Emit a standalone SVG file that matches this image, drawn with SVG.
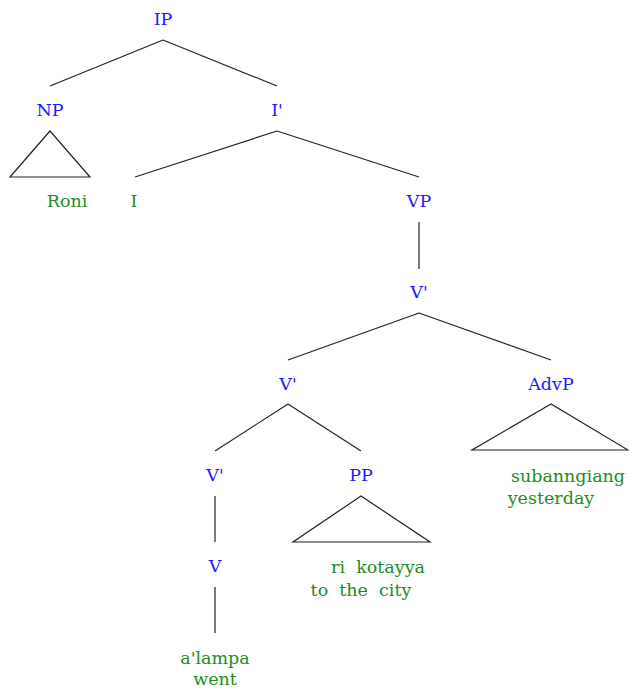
<svg xmlns="http://www.w3.org/2000/svg" width="629" height="689" viewBox="0 0 629 689">
<style>
text{font-family:"DejaVu Serif",serif;font-size:17.5px;text-anchor:middle;white-space:pre}
.c{fill:#1a1aff}
.w{fill:#228b22}
line,polygon{stroke:#222;stroke-width:1.2;fill:none}
</style>
<rect width="629" height="689" fill="#fff"/>
<g id="connectors">
<line x1="163" y1="40" x2="50" y2="86"/>
<line x1="163" y1="40" x2="277" y2="86"/>
<line x1="277" y1="131" x2="135" y2="177"/>
<line x1="277" y1="131" x2="419" y2="177"/>
<line x1="419" y1="222" x2="419" y2="269"/>
<line x1="419" y1="313" x2="288" y2="360"/>
<line x1="419" y1="313" x2="551" y2="360"/>
<line x1="288" y1="404" x2="215" y2="451"/>
<line x1="288" y1="404" x2="361" y2="451"/>
<line x1="215" y1="496" x2="215" y2="542"/>
<line x1="215" y1="587" x2="215" y2="633"/>
<polygon points="50,131 10,177 90,177"/>
<polygon points="361,496 293,542 430,542"/>
<polygon points="551,404 472,450 628,450"/>
</g>
<g id="IP"><text class="c" x="163" y="25">IP</text></g>
<g id="NP"><text class="c" x="50" y="116">NP</text><text class="w" x="67" y="207">Roni</text></g>
<g id="Ibar"><text class="c" x="277" y="116">I'</text></g>
<g id="I"><text class="w" x="134" y="207">I</text></g>
<g id="VP"><text class="c" x="419" y="207">VP</text></g>
<g id="Vbar1"><text class="c" x="419" y="298">V'</text></g>
<g id="Vbar2"><text class="c" x="288" y="390">V'</text></g>
<g id="AdvP"><text class="c" x="551" y="390">AdvP</text><text class="w" x="568" y="482">subanngiang</text><text class="w" x="551" y="504">yesterday</text></g>
<g id="Vbar3"><text class="c" x="215" y="481">V'</text></g>
<g id="PP"><text class="c" x="361" y="481">PP</text><text class="w" x="378" y="573">ri  kotayya</text><text class="w" x="361" y="596">to  the  city</text></g>
<g id="V"><text class="c" x="215" y="572">V</text></g>
<g id="verb"><text class="w" x="215" y="664">a'lampa</text><text class="w" x="215" y="685">went</text></g>
</svg>
